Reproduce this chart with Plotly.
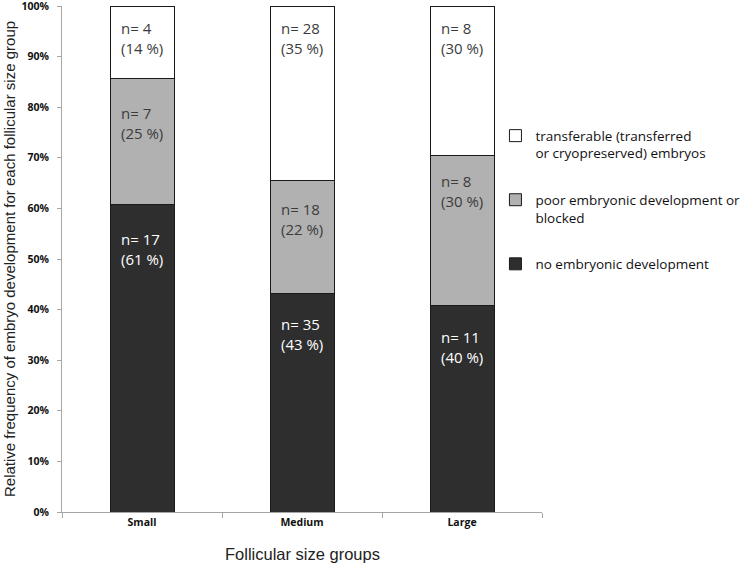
import plotly.graph_objects as go

categories = ["Small", "Medium", "Large"]
no_dev_n = [17, 35, 11]
poor_dev_n = [7, 18, 8]
transfer_n = [4, 28, 8]
no_dev_pct_label = [61, 43, 40]
poor_dev_pct_label = [25, 22, 30]
transfer_pct_label = [14, 35, 30]
series_names = [
    "no embryonic development",
    "poor embryonic development or<br>blocked",
    "transferable (transferred<br>or cryopreserved) embryos",
]
y_ticks = [0, 10, 20, 30, 40, 50, 60, 70, 80, 90, 100]
y_ticklabels = [f"{v}%" for v in y_ticks]
x_title = "Follicular size groups"
y_title = "Relative frequency of embryo development for each follicular size group"

# styling
colors = ["#2e2e2e", "#b1b1b1", "#ffffff"]
label_colors = ["#ffffff", "#3c3c3c", "#3c3c3c"]
# distance (px) from the segment top to the label's first line centre, per series/category
label_offsets = [[33, 30, 30], [34, 27, 24], [21, 21, 21]]

totals = [a + b + c for a, b, c in zip(no_dev_n, poor_dev_n, transfer_n)]
series = [no_dev_n, poor_dev_n, transfer_n]
pct_labels = [no_dev_pct_label, poor_dev_pct_label, transfer_pct_label]

fig = go.Figure()
for i, (name, vals, col) in enumerate(zip(series_names, series, colors)):
    pct = [100.0 * v / t for v, t in zip(vals, totals)]
    fig.add_trace(go.Bar(
        x=categories, y=pct, name=name,
        marker=dict(color=col, line=dict(color="#1a1a1a", width=1)),
        width=0.4, legendgroup=f"g{i}", legendrank=1000 - i,
    ))

for ci, cat in enumerate(categories):
    base = 0.0
    for si, vals in enumerate(series):
        pct = 100.0 * vals[ci] / totals[ci]
        top = min(base + pct, 100.0)
        fig.add_annotation(
            x=cat, y=top, xref="x", yref="y",
            text=f"n= {vals[ci]}<br>({pct_labels[si][ci]} %)",
            showarrow=False, yanchor="top",
            yshift=-(label_offsets[si][ci] - 11),
            align="left",
            font=dict(family="Open Sans", size=15, color=label_colors[si]),
        )
        base = top

# axis titles
fig.add_annotation(
    x=0, y=0.5, xref="paper", yref="paper", xanchor="center", yanchor="middle",
    xshift=-53, textangle=-90, showarrow=False, text=y_title,
    font=dict(family="Liberation Sans", size=15, color="#222222"),
)
fig.add_annotation(
    x=0.5, y=0, xref="paper", yref="paper", xanchor="center", yanchor="middle",
    yshift=-42, showarrow=False, text=x_title,
    font=dict(family="Liberation Sans", size=16.5, color="#222222"),
)

fig.update_layout(
    width=754, height=563,
    margin=dict(l=62, r=212, t=6, b=51, autoexpand=False),
    barmode="stack",
    plot_bgcolor="white", paper_bgcolor="white",
    showlegend=True,
    legend=dict(
        x=0.903, y=0.774, xanchor="left", yanchor="top",
        traceorder="grouped",
        font=dict(family="Open Sans", size=13.5, color="#111111"),
        valign="top",
        tracegroupgap=26,
        bgcolor="rgba(0,0,0,0)",
    ),
    xaxis=dict(
        automargin=False,
        showline=True, linecolor="#a6a6a6", linewidth=1,
        ticks="outside", tickson="boundaries", ticklen=5, tickcolor="#a6a6a6",
        tickfont=dict(family="Open Sans", size=10.5, color="#111111", weight="bold"),
    ),
    yaxis=dict(
        automargin=False,
        range=[0, 100], tickvals=y_ticks, ticktext=y_ticklabels,
        showline=True, linecolor="#a6a6a6", linewidth=1,
        ticks="outside", ticklen=4, tickcolor="#a6a6a6",
        ticklabeloverflow="allow", ticklabelstandoff=6,
        showgrid=False, zeroline=False,
        tickfont=dict(family="Open Sans", size=10.5, color="#111111", weight="bold"),
    ),
)

fig.write_html("out.html", config={"displayModeBar": False},
               post_script="document.body.style.margin='0px';")
